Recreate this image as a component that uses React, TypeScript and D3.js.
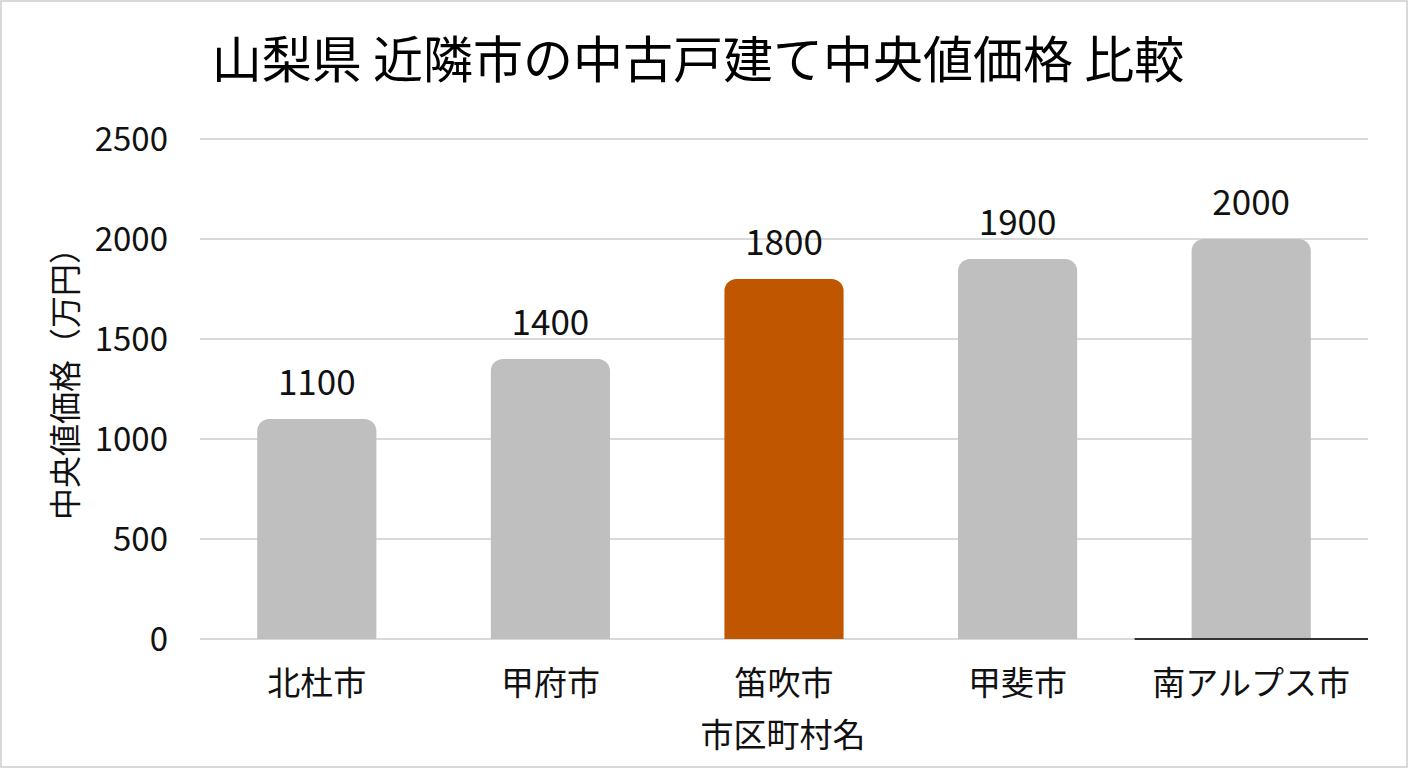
import React, { useEffect, useRef } from 'react';
import * as d3 from 'd3';

const cities = ['北杜市', '甲府市', '笛吹市', '甲斐市', '南アルプス市'];
const prices = [1100, 1400, 1800, 1900, 2000];
const highlightCity = '笛吹市';
const yTicks = [0, 500, 1000, 1500, 2000, 2500];

const titleText = '山梨県 近隣市の中古戸建て中央値価格 比較';
const xTitle = '市区町村名';
const yTitle = '中央値価格（万円）';

const App = () => {
  const svgRef = useRef(null);

  useEffect(() => {
    const width = 1408;
    const height = 768;
    const left = 200;
    const right = 1368;
    const top = 139;
    const bottom = 639;
    const font = '"Noto Sans CJK JP", "Noto Sans", sans-serif';

    const svg = d3.select(svgRef.current);
    svg.selectAll('*').remove();
    svg.attr('width', width).attr('height', height);

    svg.append('rect')
      .attr('x', 1).attr('y', 1)
      .attr('width', width - 2).attr('height', height - 2)
      .attr('fill', '#fff')
      .attr('stroke', '#d9d9d9')
      .attr('stroke-width', 2);

    const x = d3.scaleBand().domain(cities).range([left, right]).paddingInner(0.49).paddingOuter(0.245);
    const y = d3.scaleLinear().domain([0, 2500]).range([bottom, top]);

    // gridlines + tick labels
    const grid = svg.append('g');
    grid.selectAll('line')
      .data(yTicks)
      .enter()
      .append('line')
      .attr('x1', left).attr('x2', right)
      .attr('y1', (d) => y(d)).attr('y2', (d) => y(d))
      .attr('stroke', '#d9d9d9')
      .attr('stroke-width', 2);

    grid.selectAll('text')
      .data(yTicks)
      .enter()
      .append('text')
      .attr('x', 168)
      .attr('y', (d) => y(d))
      .attr('dy', '0.36em')
      .attr('text-anchor', 'end')
      .attr('font-family', font)
      .attr('font-size', 33)
      .attr('fill', '#111')
      .text((d) => d);

    // bars with rounded top corners
    const r = 12;
    const bw = x.bandwidth();
    svg.append('g')
      .selectAll('path')
      .data(prices)
      .enter()
      .append('path')
      .attr('d', (d, i) => {
        const x0 = x(cities[i])!;
        const y0 = y(d);
        const p = d3.path();
        p.moveTo(x0, bottom);
        p.lineTo(x0, y0 + r);
        p.arcTo(x0, y0, x0 + r, y0, r);
        p.lineTo(x0 + bw - r, y0);
        p.arcTo(x0 + bw, y0, x0 + bw, y0 + r, r);
        p.lineTo(x0 + bw, bottom);
        p.closePath();
        return p.toString();
      })
      .attr('fill', (d, i) => (cities[i] === highlightCity ? '#c05700' : '#bfbfbf'));

    // dark stretch of baseline under the last category
    svg.append('line')
      .attr('x1', x(cities[4])! - 57).attr('x2', right)
      .attr('y1', bottom).attr('y2', bottom)
      .attr('stroke', '#333')
      .attr('stroke-width', 2);

    // value labels
    svg.append('g')
      .selectAll('text')
      .data(prices)
      .enter()
      .append('text')
      .attr('x', (d, i) => x(cities[i])! + bw / 2)
      .attr('y', (d) => y(d) - 24)
      .attr('text-anchor', 'middle')
      .attr('font-family', font)
      .attr('font-size', 35)
      .attr('fill', '#111')
      .text((d) => d);

    // category labels
    svg.append('g')
      .selectAll('text')
      .data(cities)
      .enter()
      .append('text')
      .attr('x', (d) => x(d)! + bw / 2)
      .attr('y', 695)
      .attr('text-anchor', 'middle')
      .attr('font-family', font)
      .attr('font-size', 33)
      .attr('fill', '#111')
      .text((d) => d);

    svg.append('text')
      .attr('x', 783).attr('y', 747)
      .attr('text-anchor', 'middle')
      .attr('font-family', font)
      .attr('font-size', 33)
      .attr('fill', '#111')
      .text(xTitle);

    svg.append('text')
      .attr('transform', `translate(65, 376) rotate(-90)`)
      .attr('dy', '0.36em')
      .attr('text-anchor', 'middle')
      .attr('font-family', font)
      .attr('font-size', 32)
      .attr('fill', '#111')
      .text(yTitle);

    svg.append('text')
      .attr('x', 698).attr('y', 78)
      .attr('text-anchor', 'middle')
      .attr('font-family', font)
      .attr('font-size', 50)
      .attr('fill', '#000')
      .text(titleText);
  }, []);

  return <svg ref={svgRef} style={{ position: 'absolute', left: 0, top: 0 }}></svg>;
};

export default App;
